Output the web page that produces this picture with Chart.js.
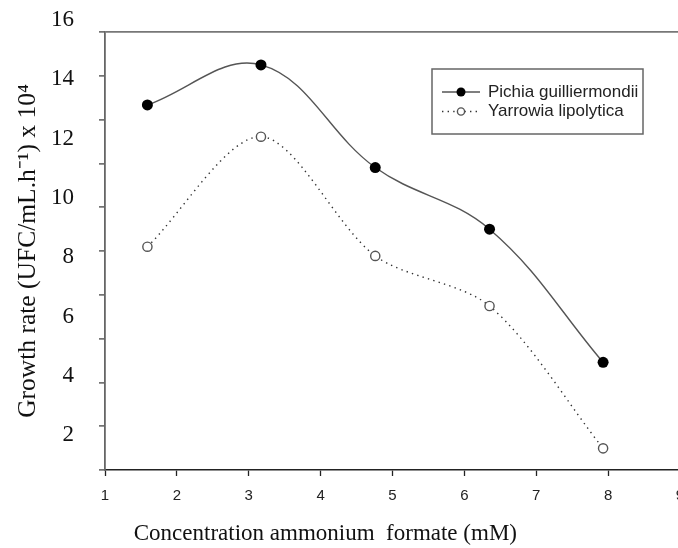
<!DOCTYPE html>
<html>
<head>
<meta charset="utf-8">
<script src="https://cdn.jsdelivr.net/npm/chart.js@4.4.1/dist/chart.umd.min.js"></script>
<style>
  html, body { margin: 0; padding: 0; background: #fff; overflow: hidden; }
  /* canvas is a little wider than the page so the x = 9 end runs off the edge, as in the original */
  #wrap { width: 678px; height: 548px; position: relative; overflow: hidden; }
  canvas { display: block; }
</style>
</head>
<body>
<div id="wrap"><canvas id="growthChart" width="686" height="548"></canvas></div>
<script>
// concentration of ammonium formate (mM)
const concentrations = [1.59, 3.17, 4.76, 6.35, 7.93];
const pichiaRates = [13.14, 14.49, 11.03, 8.95, 4.46];
const yarrowiaRates = [8.36, 12.07, 8.05, 6.36, 1.56];
const yLabels = [2, 4, 6, 8, 10, 12, 14, 16];
const yMin = 0.83, yMax = 15.6;

const serif = '"Liberation Serif", "Times New Roman", serif';
const sans = '"Liberation Sans", Arial, sans-serif';

function points(values) {
  return concentrations.map((x, i) => ({ x: x, y: values[i] }));
}

// legend drawn inside the plot, boxed like the original
const boxLegend = {
  id: "boxLegend",
  afterDraw(chart) {
    const ctx = chart.ctx;
    ctx.save();
    ctx.strokeStyle = "#666";
    ctx.lineWidth = 1.5;
    ctx.strokeRect(432, 69, 211, 65);
    chart.data.datasets.forEach((ds, i) => {
      const y = 92 + i * 19.5;
      ctx.beginPath();
      ctx.setLineDash(ds.borderDash || []);
      ctx.strokeStyle = ds.borderColor;
      ctx.lineWidth = ds.borderWidth;
      ctx.moveTo(442, y);
      ctx.lineTo(480, y);
      ctx.stroke();
      ctx.setLineDash([]);
      ctx.beginPath();
      ctx.arc(461, y, ds.pointRadius - 1, 0, Math.PI * 2);
      ctx.fillStyle = ds.pointBackgroundColor;
      ctx.fill();
      if (ds.pointBorderWidth) {
        ctx.lineWidth = ds.pointBorderWidth;
        ctx.strokeStyle = ds.pointBorderColor;
        ctx.stroke();
      }
      ctx.fillStyle = "#222";
      ctx.font = "17px " + sans;
      ctx.textBaseline = "middle";
      ctx.fillText(ds.label, 488, y);
    });
    ctx.restore();
  }
};

new Chart(document.getElementById("growthChart"), {
  type: "line",
  data: {
    datasets: [{
      label: "Pichia guilliermondii",
      data: points(pichiaRates),
      borderColor: "#555",
      borderWidth: 1.4,
      tension: 0.38,
      pointRadius: 5.5,
      pointBackgroundColor: "#000",
      pointBorderColor: "#000",
      pointBorderWidth: 0,
      yAxisID: "y"
    }, {
      label: "Yarrowia lipolytica",
      data: points(yarrowiaRates),
      borderColor: "#333",
      borderWidth: 1.4,
      borderDash: [1.4, 4.2],
      tension: 0.3,
      pointRadius: 4.6,
      pointBackgroundColor: "#fff",
      pointBorderColor: "#555",
      pointBorderWidth: 1.4,
      yAxisID: "y"
    }]
  },
  options: {
    responsive: false,
    animation: false,
    layout: { padding: { top: 32, left: 0, right: 0, bottom: 0 } },
    plugins: {
      legend: { display: false },
      tooltip: { enabled: false }
    },
    scales: {
      x: {
        type: "linear",
        min: 1,
        max: 9,
        ticks: { stepSize: 1, color: "#222", padding: 11, font: { family: sans, size: 15 } },
        grid: { drawOnChartArea: false, drawTicks: true, tickLength: 6, tickColor: "#222", tickWidth: 1.3 },
        border: { display: true, color: "#222", width: 1.6 },
        title: {
          display: true,
          align: "start",
          text: "     Concentration ammonium  formate (mM)",
          color: "#111",
          padding: { top: 0, bottom: 0 },
          font: { family: serif, size: 23 }
        },
        afterFit(s) { s.height = 78; s.paddingLeft = 0; s.paddingRight = 0; }
      },
      y: {
        type: "linear",
        position: "left",
        weight: 1,
        min: yMin,
        max: yMax,
        afterBuildTicks(s) { s.ticks = yLabels.map(v => ({ value: v })); },
        ticks: { autoSkip: false, color: "#111", padding: 31, font: { family: serif, size: 23 } },
        grid: { display: false, drawTicks: false },
        border: { display: false },
        title: {
          display: true,
          text: "Growth rate (UFC/mL.h\u207B\u00B9) x 10\u2074",
          color: "#111",
          padding: { top: 13, bottom: 0 },
          font: { family: serif, size: 25.5 }
        },
        afterFit(s) { s.width = 105; s.paddingTop = 0; s.paddingBottom = 0; }
      },
      yMarks: {
        type: "linear",
        position: "left",
        weight: 0,
        min: 0,
        max: 10,
        ticks: { display: false, stepSize: 1 },
        grid: {
          drawOnChartArea: true,
          drawTicks: true,
          tickLength: 6,
          color: c => c.tick && c.tick.value === 10 ? "#777" : "rgba(0,0,0,0)",
          lineWidth: 1.8,
          tickColor: "#444",
          tickWidth: 1.3
        },
        border: { display: true, color: "#666", width: 1.8 },
        afterFit(s) { s.width = 0; s.paddingTop = 0; s.paddingBottom = 0; }
      }
    }
  },
  plugins: [boxLegend]
});
</script>
</body>
</html>
